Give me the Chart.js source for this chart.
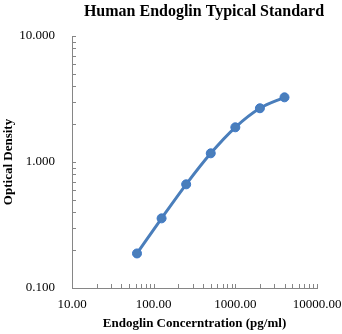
<!DOCTYPE html>
<html>
<head>
<meta charset="utf-8">
<script src="https://cdn.jsdelivr.net/npm/chart.js@4.4.1/dist/chart.umd.min.js"></script>
<style>
  html, body { margin: 0; padding: 0; background: #fff; }
  #wrap { width: 342px; height: 334px; position: relative; }
</style>
</head>
<body>
<div id="wrap"><canvas id="chart"></canvas></div>
<script>
// Standard curve values
const concentrations = [62.5, 125, 250, 500, 1000, 2000, 4000];
const opticalDensity = [0.188, 0.357, 0.665, 1.172, 1.885, 2.67, 3.26];

// Axis ticks
const xMajorTicks = [10, 100, 1000, 10000];
const xAllTicks = [10, 20, 30, 40, 50, 60, 70, 80, 90,
  100, 200, 300, 400, 500, 600, 700, 800, 900,
  1000, 2000, 3000, 4000, 5000, 6000, 7000, 8000, 9000, 10000];
const yMajorTicks = [0.1, 1, 10];
const yAllTicks = [0.1, 0.2, 0.3, 0.4, 0.5, 0.6, 0.7, 0.8, 0.9,
  1, 2, 3, 4, 5, 6, 7, 8, 9, 10];

const chartTitle = 'Human Endoglin Typical Standard';

const AXIS = '#868686';
const SERIF = '"Liberation Serif", "Times New Roman", serif';

// minor/major ticks drawn inward from the axis lines, plus the title
const extras = {
  id: 'extras',
  afterDraw(chart){
    const ctx = chart.ctx;
    const { left, bottom } = chart.chartArea;
    const len = 4;
    ctx.save();
    ctx.strokeStyle = AXIS;
    ctx.lineWidth = 1;
    ctx.beginPath();
    xAllTicks.forEach(v => {
      const px = Math.round(chart.scales.x.getPixelForValue(v)) + 0.5;
      ctx.moveTo(px, bottom);
      ctx.lineTo(px, bottom - len);
    });
    yAllTicks.forEach(v => {
      const py = Math.round(chart.scales.y.getPixelForValue(v)) + 0.5;
      ctx.moveTo(left, py);
      ctx.lineTo(left + len, py);
    });
    ctx.stroke();

    // title sits a bit right of centre, like the original
    ctx.fillStyle = '#000';
    ctx.font = `bold 16px ${SERIF}`;
    ctx.textAlign = 'center';
    ctx.textBaseline = 'middle';
    ctx.fillText(chartTitle, 204, 12);
    ctx.restore();
  }
};

const data = concentrations.map((c, i) => ({ x: c, y: opticalDensity[i] }));

new Chart(document.getElementById('chart'), {
  type: 'line',
  data: {
    datasets: [{
      label: 'Standard',
      data,
      borderColor: '#4a7ebb',
      borderWidth: 3,
      backgroundColor: '#4a7ebb',
      pointBackgroundColor: '#4a7ebb',
      pointBorderColor: '#3c78c8',
      pointBorderWidth: 1,
      pointRadius: 4.5,
      cubicInterpolationMode: 'monotone',
      fill: false,
    }]
  },
  options: {
    responsive: true,
    maintainAspectRatio: false,
    animation: false,
    layout: { padding: { left: 0, right: 25, top: 36, bottom: 0 } },
    plugins: {
      legend: { display: false },
      tooltip: { enabled: false },
      title: { display: false },
    },
    scales: {
      x: {
        type: 'logarithmic',
        min: 10,
        max: 10000,
        afterBuildTicks: (s) => { s.ticks = xAllTicks.map(v => ({ value: v })); },
        afterFit: (s) => { s.height = 46; s.paddingLeft = 0; s.paddingRight = 0; },
        border: { display: true, color: AXIS, width: 1 },
        grid: { display: false, drawTicks: false },
        ticks: {
          autoSkip: false,
          maxRotation: 0,
          padding: 9,
          color: '#000',
          font: { family: SERIF, size: 13 },
          callback: (v) => xMajorTicks.includes(v) ? Number(v).toFixed(2) : '',
        },
        title: {
          display: true,
          text: 'Endoglin Concerntration (pg/ml)',
          color: '#000',
          font: { family: SERIF, size: 13, weight: 'bold' },
          padding: { top: 0, bottom: 3 },
        }
      },
      y: {
        type: 'logarithmic',
        min: 0.1,
        max: 10,
        afterBuildTicks: (s) => { s.ticks = yAllTicks.map(v => ({ value: v })); },
        afterFit: (s) => { s.width = 72; s.paddingTop = 0; s.paddingBottom = 0; },
        border: { display: true, color: AXIS, width: 1 },
        grid: { display: false, drawTicks: false },
        ticks: {
          autoSkip: false,
          padding: 17,
          color: '#000',
          font: { family: SERIF, size: 13 },
          callback: (v) => yMajorTicks.includes(v) ? Number(v).toFixed(3) : '',
        },
        title: {
          display: true,
          text: 'Optical Density',
          color: '#000',
          font: { family: SERIF, size: 13, weight: 'bold' },
          padding: { top: 1, bottom: 0 },
        }
      }
    }
  },
  plugins: [extras]
});
</script>
</body>
</html>
